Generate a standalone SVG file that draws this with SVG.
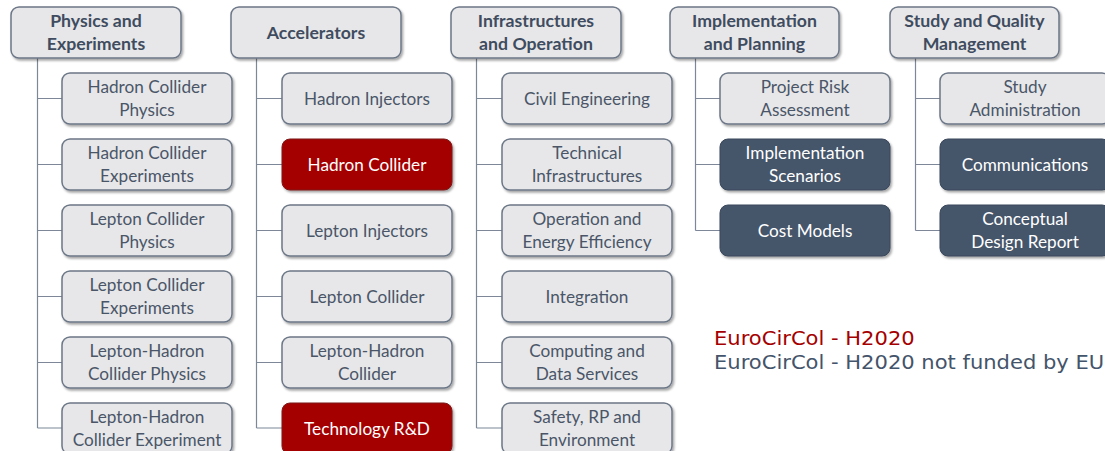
<svg xmlns="http://www.w3.org/2000/svg" width="1105" height="451" viewBox="0 0 1105 451">
  <defs>
    <filter id="shadow" x="-10%" y="-10%" width="125%" height="140%">
      <feDropShadow dx="1.5" dy="2" stdDeviation="1.2" flood-color="#000" flood-opacity="0.35"/>
    </filter>
  </defs>
  <style>
    .box { fill: #e7e7e9; stroke: #6c7787; stroke-width: 1.5; filter: url(#shadow); }
    .red { fill: #a50000; stroke: #7a1a1a; stroke-width: 1; filter: url(#shadow); }
    .dark { fill: #44546a; stroke: #3a475a; stroke-width: 1; filter: url(#shadow); }
    text { font-family: Lato, "Open Sans", "Liberation Sans", sans-serif; font-size: 17.2px; text-anchor: middle; }
    .hd { font-weight: bold; font-size: 17.7px; fill: #3f4c60; }
    .tx { fill: #4a5668; }
    .wt { fill: #ffffff; }
    .conn { fill: none; stroke: #7d8797; stroke-width: 1.2; }
    .legend { font-family: "DejaVu Sans", Verdana, sans-serif; font-size: 19.5px; text-anchor: start; }
  </style>

  <!-- connectors -->
  <g id="connectors" class="conn">
    <path d="M37.5 58 V428 M37.5 98.5 H62 M37.5 164.5 H62 M37.5 230.5 H62 M37.5 296.5 H62 M37.5 362.5 H62 M37.5 428 H62"/>
    <path d="M256.5 58 V428 M256.5 98.5 H282 M256.5 164.5 H282 M256.5 230.5 H282 M256.5 296.5 H282 M256.5 362.5 H282 M256.5 428 H282"/>
    <path d="M476.5 58 V428 M476.5 98.5 H502 M476.5 164.5 H502 M476.5 230.5 H502 M476.5 296.5 H502 M476.5 362.5 H502 M476.5 428 H502"/>
    <path d="M695.5 58 V230.5 M695.5 98.5 H720 M695.5 164.5 H720 M695.5 230.5 H720"/>
    <path d="M915.5 58 V230.5 M915.5 98.5 H940 M915.5 164.5 H940 M915.5 230.5 H940"/>
  </g>

  <!-- Physics and Experiments -->
  <g id="physics">
    <rect class="box" x="11" y="7" width="170" height="51" rx="8"/>
    <text class="hd" x="96" y="27">Physics and</text>
    <text class="hd" x="96" y="49.5">Experiments</text>
  </g>
  <g id="hc-physics">
    <rect class="box" x="62" y="73" width="170" height="51" rx="8"/>
    <text class="tx" x="147" y="93">Hadron Collider</text>
    <text class="tx" x="147" y="115.5">Physics</text>
  </g>
  <g id="hc-experiments">
    <rect class="box" x="62" y="139" width="170" height="51" rx="8"/>
    <text class="tx" x="147" y="159">Hadron Collider</text>
    <text class="tx" x="147" y="181.5">Experiments</text>
  </g>
  <g id="lc-physics">
    <rect class="box" x="62" y="205" width="170" height="51" rx="8"/>
    <text class="tx" x="147" y="225">Lepton Collider</text>
    <text class="tx" x="147" y="247.5">Physics</text>
  </g>
  <g id="lc-experiments">
    <rect class="box" x="62" y="271" width="170" height="51" rx="8"/>
    <text class="tx" x="147" y="291">Lepton Collider</text>
    <text class="tx" x="147" y="313.5">Experiments</text>
  </g>
  <g id="lhc-physics">
    <rect class="box" x="62" y="337" width="170" height="51" rx="8"/>
    <text class="tx" x="147" y="357">Lepton-Hadron</text>
    <text class="tx" x="147" y="379.5">Collider Physics</text>
  </g>
  <g id="lhc-experiment">
    <rect class="box" x="62" y="403" width="170" height="51" rx="8"/>
    <text class="tx" x="147" y="423">Lepton-Hadron</text>
    <text class="tx" x="147" y="445.5">Collider Experiment</text>
  </g>

  <!-- Accelerators -->
  <g id="accelerators">
    <rect class="box" x="231" y="7" width="170" height="51" rx="8"/>
    <text class="hd" x="316" y="38.5">Accelerators</text>
  </g>
  <g id="hadron-injectors">
    <rect class="box" x="282" y="73" width="170" height="51" rx="8"/>
    <text class="tx" x="367" y="104.5">Hadron Injectors</text>
  </g>
  <g id="hadron-collider">
    <rect class="red" x="282" y="139" width="170" height="51" rx="8"/>
    <text class="wt" x="367" y="170.5">Hadron Collider</text>
  </g>
  <g id="lepton-injectors">
    <rect class="box" x="282" y="205" width="170" height="51" rx="8"/>
    <text class="tx" x="367" y="236.5">Lepton Injectors</text>
  </g>
  <g id="lepton-collider">
    <rect class="box" x="282" y="271" width="170" height="51" rx="8"/>
    <text class="tx" x="367" y="302.5">Lepton Collider</text>
  </g>
  <g id="lepton-hadron-collider">
    <rect class="box" x="282" y="337" width="170" height="51" rx="8"/>
    <text class="tx" x="367" y="357">Lepton-Hadron</text>
    <text class="tx" x="367" y="379.5">Collider</text>
  </g>
  <g id="technology-rd">
    <rect class="red" x="282" y="403" width="170" height="51" rx="8"/>
    <text class="wt" x="367" y="434.5">Technology R&amp;D</text>
  </g>

  <!-- Infrastructures and Operation -->
  <g id="infrastructures">
    <rect class="box" x="451" y="7" width="170" height="51" rx="8"/>
    <text class="hd" x="536" y="27">Infrastructures</text>
    <text class="hd" x="536" y="49.5">and Operation</text>
  </g>
  <g id="civil-engineering">
    <rect class="box" x="502" y="73" width="170" height="51" rx="8"/>
    <text class="tx" x="587" y="104.5">Civil Engineering</text>
  </g>
  <g id="technical-infrastructures">
    <rect class="box" x="502" y="139" width="170" height="51" rx="8"/>
    <text class="tx" x="587" y="159">Technical</text>
    <text class="tx" x="587" y="181.5">Infrastructures</text>
  </g>
  <g id="operation-energy">
    <rect class="box" x="502" y="205" width="170" height="51" rx="8"/>
    <text class="tx" x="587" y="225">Operation and</text>
    <text class="tx" x="587" y="247.5">Energy Efficiency</text>
  </g>
  <g id="integration">
    <rect class="box" x="502" y="271" width="170" height="51" rx="8"/>
    <text class="tx" x="587" y="302.5">Integration</text>
  </g>
  <g id="computing">
    <rect class="box" x="502" y="337" width="170" height="51" rx="8"/>
    <text class="tx" x="587" y="357">Computing and</text>
    <text class="tx" x="587" y="379.5">Data Services</text>
  </g>
  <g id="safety">
    <rect class="box" x="502" y="403" width="170" height="51" rx="8"/>
    <text class="tx" x="587" y="423">Safety, RP and</text>
    <text class="tx" x="587" y="445.5">Environment</text>
  </g>

  <!-- Implementation and Planning -->
  <g id="implementation">
    <rect class="box" x="670" y="7" width="169" height="51" rx="8"/>
    <text class="hd" x="754.5" y="27">Implementation</text>
    <text class="hd" x="754.5" y="49.5">and Planning</text>
  </g>
  <g id="risk-assessment">
    <rect class="box" x="720" y="73" width="170" height="51" rx="8"/>
    <text class="tx" x="805" y="93">Project Risk</text>
    <text class="tx" x="805" y="115.5">Assessment</text>
  </g>
  <g id="implementation-scenarios">
    <rect class="dark" x="720" y="139" width="170" height="51" rx="8"/>
    <text class="wt" x="805" y="159">Implementation</text>
    <text class="wt" x="805" y="181.5">Scenarios</text>
  </g>
  <g id="cost-models">
    <rect class="dark" x="720" y="205" width="170" height="51" rx="8"/>
    <text class="wt" x="805" y="236.5">Cost Models</text>
  </g>

  <!-- Study and Quality Management -->
  <g id="study-quality">
    <rect class="box" x="890" y="7" width="169" height="51" rx="8"/>
    <text class="hd" x="974.5" y="27">Study and Quality</text>
    <text class="hd" x="974.5" y="49.5">Management</text>
  </g>
  <g id="study-administration">
    <rect class="box" x="940" y="73" width="170" height="51" rx="8"/>
    <text class="tx" x="1025" y="93">Study</text>
    <text class="tx" x="1025" y="115.5">Administration</text>
  </g>
  <g id="communications">
    <rect class="dark" x="940" y="139" width="170" height="51" rx="8"/>
    <text class="wt" x="1025" y="170.5">Communications</text>
  </g>
  <g id="cdr">
    <rect class="dark" x="940" y="205" width="170" height="51" rx="8"/>
    <text class="wt" x="1025" y="225">Conceptual</text>
    <text class="wt" x="1025" y="247.5">Design Report</text>
  </g>

  <!-- legend, slightly widened lettering -->
  <g id="legend" transform="translate(714 0) scale(1.08 1)">
    <text class="legend" x="0" y="345" fill="#a50000">EuroCirCol - H2020</text>
    <text class="legend" x="0" y="369" fill="#44546a">EuroCirCol - H2020 not funded by EU</text>
  </g>
</svg>
